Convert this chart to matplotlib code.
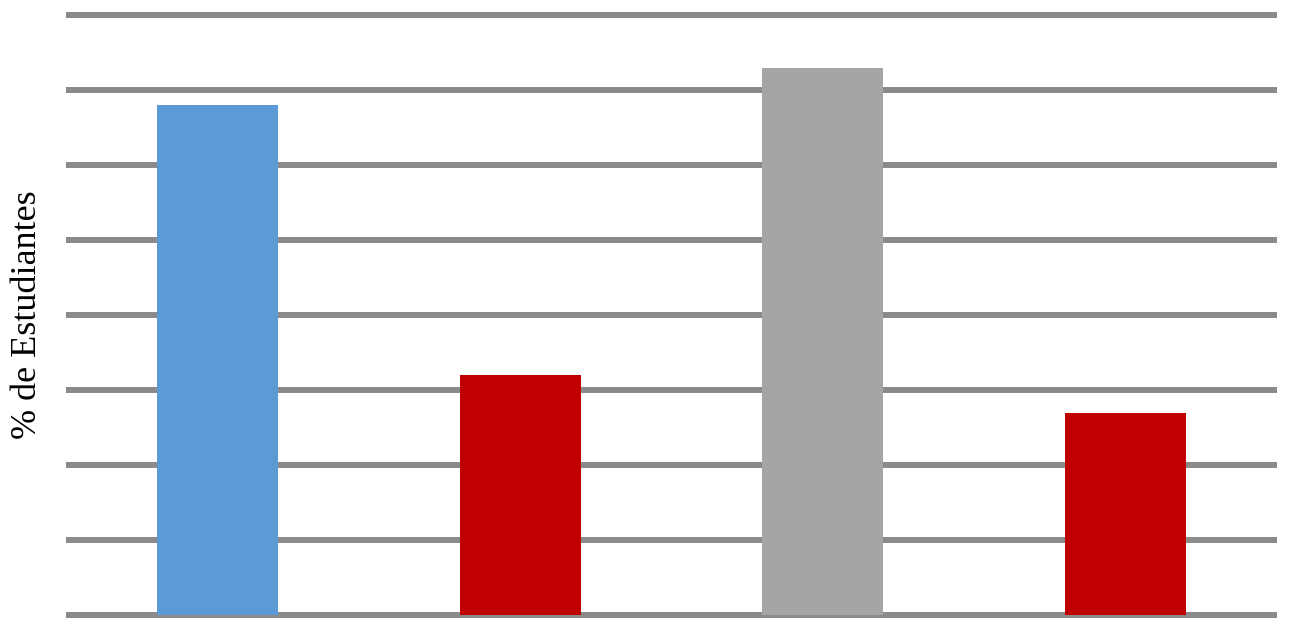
import matplotlib

matplotlib.use("Agg")

import matplotlib.pyplot as plt

categories = ["A", "B", "C", "D"]
values = [68, 32, 73, 27]
colors = ["#5b9bd5", "#c00000", "#a5a5a5", "#c00000"]
yticks = [0, 10, 20, 30, 40, 50, 60, 70, 80]

fig = plt.figure(figsize=(12.89, 6.3), dpi=100)
ax = fig.add_axes([66 / 1289, 15 / 630, 1211 / 1289, 600 / 630])

x = range(len(categories))
ax.bar(x, values, width=0.4, color=colors, zorder=3)
ax.set_xlim(-0.5, len(categories) - 0.5)
ax.set_ylim(0, 80)
ax.set_yticks(yticks)
ax.grid(True, axis="y", color="#8a8a8a", linewidth=4.3, zorder=1)
for gl in ax.get_ygridlines():
    gl.set_clip_on(False)
    gl.set_solid_capstyle("butt")
ax.tick_params(left=False, bottom=False, labelleft=False, labelbottom=False)
for side in ax.spines.values():
    side.set_visible(False)
ax.set_ylabel("% de Estudiantes", fontfamily="Liberation Serif", fontsize=26, labelpad=16)

fig.savefig("out.png", dpi=100)
